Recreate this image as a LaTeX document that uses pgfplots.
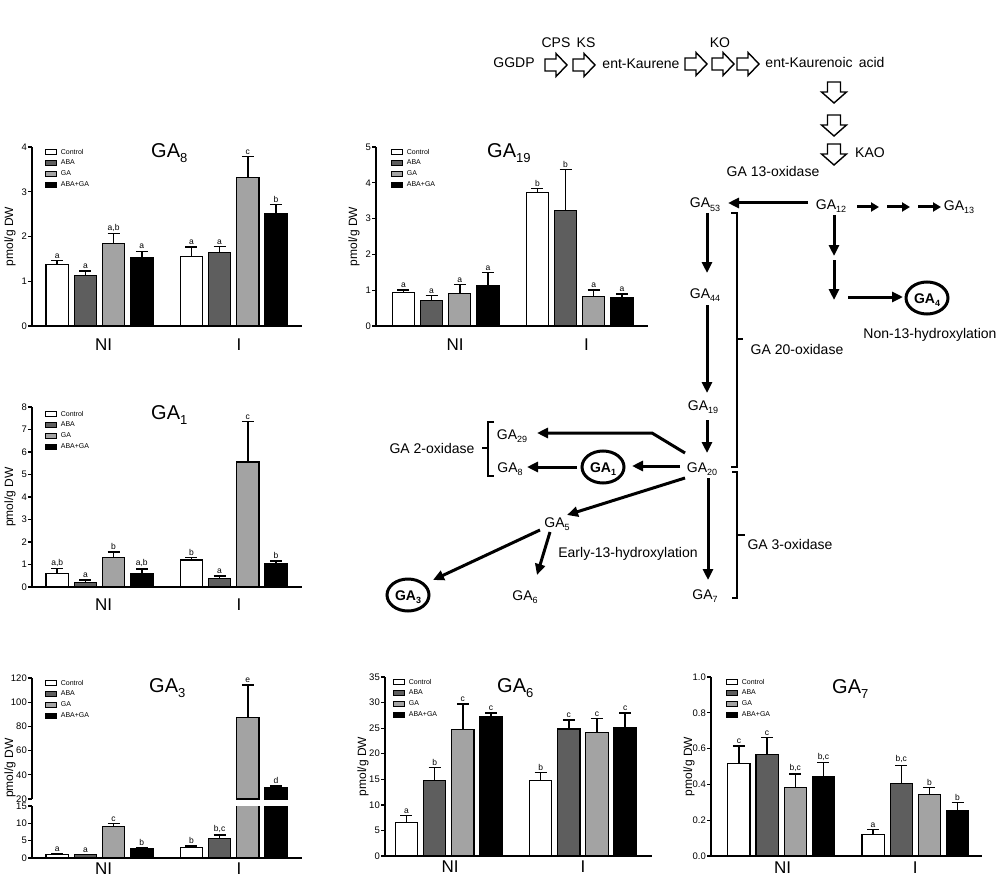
\documentclass[border=0pt]{standalone}
\usepackage{fontspec}
\setmainfont{Liberation Sans}
\usepackage{pgfplots}
\pgfplotsset{compat=1.18}
\usepackage{pgfplotstable}
\usetikzlibrary{arrows.meta}

\definecolor{cABA}{HTML}{5E5E5E}
\definecolor{cGA}{HTML}{A3A3A3}

% columns: group, Control (value, error, letter), ABA, GA, ABA+GA
\pgfplotstableread{
grp c ce cl a ae al g ge gl b be bl
0 1.37 0.09 a 1.13 0.10 a 1.84 0.23 a,b 1.53 0.14 a
1 1.56 0.20 a 1.64 0.14 a 3.32 0.47 c 2.51 0.20 b
}\tGAeight
\pgfplotstableread{
grp c ce cl a ae al g ge gl b be bl
0 0.93 0.07 a 0.71 0.14 a 0.91 0.25 a 1.14 0.36 a
1 3.73 0.11 b 3.23 1.14 b 0.82 0.18 a 0.79 0.10 a
}\tGAnineteen
\pgfplotstableread{
grp c ce cl a ae al g ge gl b be bl
0 0.59 0.24 a,b 0.21 0.10 a 1.30 0.26 b 0.61 0.20 a,b
1 1.20 0.12 b 0.37 0.13 a 5.56 1.80 c 1.04 0.12 b
}\tGAone
\pgfplotstableread{
grp c ce cl a ae al g ge gl b be bl
0 0.97 0.19 a 0.90 0.16 a 9.2 0.8 c 2.6 0.3 b
1 3.1 0.3 b 5.7 1.0 b,c 87.6 26.6 e 29.4 1.4 d
}\tGAthree
\pgfplotstableread{
grp c ce cl a ae al g ge gl b be bl
0 6.57 1.37 a 14.7 2.6 b 24.8 4.9 c 27.3 0.7 c
1 14.8 1.5 b 24.85 1.75 c 24.1 2.8 c 25.2 2.8 c
}\tGAsix
\pgfplotstableread{
grp c ce cl a ae al g ge gl b be bl
0 0.517 0.098 c 0.569 0.093 c 0.383 0.074 b,c 0.442 0.080 b,c
1 0.121 0.028 a 0.407 0.100 b,c 0.342 0.041 b 0.253 0.046 b
}\tGAseven

\pgfplotsset{
  /pgf/number format/assume math mode=true,
  bstyle/.style={ybar, bar width=0.166, bar shift=0pt, draw=black, line width=1.2pt, fill=#1,
    error bars/y dir=plus, error bars/y explicit,
    error bars/error bar style={line width=1.5pt, black, solid},
    error bars/error mark options={rotate=90, mark size=6pt, line width=1.5pt, black}},
  lbl/.style={draw=none, mark=none, forget plot, nodes near coords, point meta=explicit symbolic,
    every node near coord/.append style={font=\fontsize{8.5}{9}\selectfont, anchor=south, inner sep=0.5pt, yshift=1.5pt}},
  gabase/.style={
    scale only axis,
    axis lines*=left,
    axis line style={-, line width=1.8pt},
    ymin=0, clip=true,
    xtick={0.03,1.04}, xticklabels={NI,I},
    x tick style={draw=none},
    y tick style={line width=1.3pt, black},
    tick align=outside, major tick length=4pt,
    tick label style={font=\fontsize{9.5}{10}\selectfont},
    xticklabel style={font=\fontsize{17}{17}\selectfont, inner sep=0pt},
    yticklabel style={inner sep=1pt},
    ylabel={pmol/g DW},
    every axis y label/.style={at={([xshift=-22pt]rel axis cs:0,0.5)}, rotate=90, anchor=center, font=\fontsize{12}{12}\selectfont},
    legend cell align=left,
    legend style={draw=none, fill=none, at={(rel axis cs:0,1)}, anchor=north west, xshift=6pt, yshift=-1pt,
      inner sep=0pt, outer sep=0pt, row sep=2.5pt, font=\fontsize{7}{7}\selectfont,
      nodes={inner sep=1pt, text height=5pt, text depth=1.3pt},
      /tikz/every odd column/.append style={column sep=3pt}},
    legend image code/.code={\draw[##1, line width=0.9pt] (0pt,-2.6pt) rectangle (11pt,2.6pt);},
  },
}

\newcommand{\gabars}[2]{%
  \addplot[bstyle=white,#2] table[x expr=\thisrow{grp}-0.315, y=c, y error=ce]{#1};
  \addplot[bstyle=cABA,#2] table[x expr=\thisrow{grp}-0.105, y=a, y error=ae]{#1};
  \addplot[bstyle=cGA,#2] table[x expr=\thisrow{grp}+0.105, y=g, y error=ge]{#1};
  \addplot[bstyle=black,#2] table[x expr=\thisrow{grp}+0.315, y=b, y error=be]{#1};
}
\newcommand{\galabels}[2]{%
  \addplot[lbl,#2] table[x expr=\thisrow{grp}-0.315, y expr=\thisrow{c}+\thisrow{ce}, meta=cl]{#1};
  \addplot[lbl,#2] table[x expr=\thisrow{grp}-0.105, y expr=\thisrow{a}+\thisrow{ae}, meta=al]{#1};
  \addplot[lbl,#2] table[x expr=\thisrow{grp}+0.105, y expr=\thisrow{g}+\thisrow{ge}, meta=gl]{#1};
  \addplot[lbl,#2] table[x expr=\thisrow{grp}+0.315, y expr=\thisrow{b}+\thisrow{be}, meta=bl]{#1};
}
\newcommand{\GT}[1]{{\fontsize{20}{20}\selectfont GA\raisebox{-5pt}{\fontsize{13}{13}\selectfont #1}}}
\newcommand{\GA}[1]{GA\raisebox{-3pt}{\fontsize{9}{9}\selectfont #1}}
\newcommand{\GAb}[1]{\textbf{GA\raisebox{-3pt}{\fontsize{9}{9}\selectfont #1}}}

\begin{document}
\begin{tikzpicture}
\path[use as bounding box] (0pt,0pt) rectangle (1000pt,-877pt);

% GA8
\begin{axis}[gabase, at={(32pt,-326pt)}, anchor=south west, width=270pt, height=179pt,
  xmin=-0.503, xmax=1.509, ymax=4, ytick={0,1,2,3,4}, xticklabel style={yshift=-9pt},
  legend style={xshift=7pt}]
  \gabars{\tGAeight}{}
  \galabels{\tGAeight}{}
  \legend{Control,ABA,GA,ABA+GA}
\end{axis}

% GA19
\begin{axis}[gabase, at={(376pt,-326pt)}, anchor=south west, width=272pt, height=179pt,
  xmin=-0.52, xmax=1.51, ymax=5, ytick={0,1,2,3,4,5}, xtick={0.07,1.05}, xticklabel style={yshift=-9pt},
  legend style={xshift=9pt}]
  \gabars{\tGAnineteen}{}
  \galabels{\tGAnineteen}{}
  \legend{Control,ABA,GA,ABA+GA}
\end{axis}

% GA1
\begin{axis}[gabase, at={(32pt,-587pt)}, anchor=south west, width=270pt, height=180pt,
  xmin=-0.503, xmax=1.509, ymax=8, ytick={0,1,...,8}, xticklabel style={yshift=-8pt},
  legend style={xshift=7pt, yshift=-2pt}]
  \gabars{\tGAone}{}
  \galabels{\tGAone}{}
  \legend{Control,ABA,GA,ABA+GA}
\end{axis}

% GA3 lower part
\begin{axis}[gabase, at={(32pt,-858pt)}, anchor=south west, width=270pt, height=52pt,
  xmin=-0.503, xmax=1.509, ymax=15, ytick={0,5,10,15}, ylabel={}, xticklabel style={yshift=-1pt}]
  \gabars{\tGAthree}{}
  \galabels{\tGAthree}{restrict y to domain=0:15}
\end{axis}
% GA3 upper part
\begin{axis}[gabase, at={(32pt,-799pt)}, anchor=south west, width=270pt, height=121pt,
  xmin=-0.503, xmax=1.509, ymin=20, ymax=120, ytick={20,40,...,120}, ylabel={},
  axis x line=none, xtick=\empty, legend style={xshift=7pt}]
  \addlegendimage{draw=black, fill=white}
  \addlegendimage{draw=black, fill=cABA}
  \addlegendimage{draw=black, fill=cGA}
  \addlegendimage{draw=black, fill=black}
  \gabars{\tGAthree}{restrict y to domain=20:200, forget plot}
  \galabels{\tGAthree}{restrict y to domain=20:200}
  \legend{Control,ABA,GA,ABA+GA}
\end{axis}
\node[rotate=90, font=\fontsize{12}{12}\selectfont] at (10pt,-768pt) {pmol/g DW};

% GA6
\begin{axis}[gabase, at={(385pt,-856pt)}, anchor=south west, width=267pt, height=179pt,
  xmin=-0.475, xmax=1.515, ymax=35, ytick={0,5,...,35}, xtick={0.01,1.0},
  xticklabel style={yshift=-1pt}, legend style={xshift=2pt}]
  \gabars{\tGAsix}{}
  \galabels{\tGAsix}{}
  \legend{Control,ABA,GA,ABA+GA}
\end{axis}

% GA7
\begin{axis}[gabase, at={(711pt,-856pt)}, anchor=south west, width=271pt, height=179pt,
  xmin=-0.523, xmax=1.497, ymax=1, ytick={0,0.2,...,1.0}, xtick={0.01,1.0},
  xticklabel style={yshift=-2pt},
  yticklabel style={/pgf/number format/.cd, fixed, fixed zerofill, precision=1}, legend style={xshift=9pt}]
  \gabars{\tGAseven}{}
  \galabels{\tGAseven}{}
  \legend{Control,ABA,GA,ABA+GA}
\end{axis}

% panel titles
\node[anchor=base west, inner sep=0pt] at (151pt,-158pt) {\GT{8}};
\node[anchor=base west, inner sep=0pt] at (487pt,-158pt) {\GT{19}};
\node[anchor=base west, inner sep=0pt] at (151pt,-419pt) {\GT{1}};
\node[anchor=base west, inner sep=0pt] at (149pt,-692pt) {\GT{3}};
\node[anchor=base west, inner sep=0pt] at (497pt,-692pt) {\GT{6}};
\node[anchor=base west, inner sep=0pt] at (832pt,-693pt) {\GT{7}};

% pathway diagram
\begin{scope}[x=1pt, y=-1pt, font=\fontsize{14}{14}\selectfont,
  every node/.style={anchor=base, inner sep=0pt},
  arr/.style={line width=3pt, -{Triangle[length=11pt,width=10pt]}},
  sarr/.style={line width=3pt, -{Triangle[length=8pt,width=9pt]}},
  brk/.style={line width=2pt},
  blk/.style={line width=1.4pt, line join=miter}]
  \node at (514,68) {GGDP};
  \node at (556,48) {CPS};
  \node at (586,48) {KS};
  \node at (641,69) {ent-Kaurene};
  \node at (720,48) {KO};
  \node at (825,68) {ent-Kaurenoic\ \,acid};
  \node at (870,158) {KAO};
  \node at (773,177) {GA 13-oxidase};
  % open block arrows (right)
  \foreach \xx/\yy in {545/65, 573/65, 685/64, 712/64, 737/64}
    \draw[blk] (\xx,\yy-6) -- ++(11,0) -- ++(0,-5.5) -- ++(11,11.5) -- ++(-11,11.5) -- ++(0,-5.5) -- ++(-11,0) -- cycle;
  % open block arrows (down)
  \foreach \yy in {82, 115, 144}
    \draw[blk] (827.5,\yy) -- ++(13,0) -- ++(0,10) -- ++(6,0) -- ++(-12.5,11) -- ++(-12.5,-11) -- ++(6,0) -- cycle;

  \node at (705,208) {\GA{53}};
  \node at (831,210) {\GA{12}};
  \node at (959,211) {\GA{13}};
  \node at (705,298) {\GA{44}};
  \node at (703,410) {\GA{19}};
  \node at (702,472) {\GA{20}};
  \node at (512,439) {\GA{29}};
  \node at (510,472) {\GA{8}};
  \node at (557,527) {\GA{5}};
  \node at (525,600) {\GA{6}};
  \node at (705,599) {\GA{7}};
  \node at (432,453) {GA 2-oxidase};
  \node at (797,354) {GA 20-oxidase};
  \node at (790,549) {GA 3-oxidase};
  \node at (628,557) {Early-13-hydroxylation};
  \node at (930,338) {Non-13-hydroxylation};

  \draw[line width=3pt] (927,298) ellipse [x radius=21, y radius=16];
  \node at (927,303) {\GAb{4}};
  \draw[line width=3pt] (603,467) ellipse [x radius=21, y radius=16];
  \node at (603,472) {\GAb{1}};
  \draw[line width=3pt] (408,595) ellipse [x radius=21, y radius=16];
  \node at (408,600) {\GAb{3}};

  \draw[arr] (808,203) -- (728,203);
  \draw[sarr] (857,207) -- (879,207);
  \draw[sarr] (887,207) -- (910,207);
  \draw[sarr] (918,207) -- (941,207);
  \draw[arr] (834,215) -- (834,256);
  \draw[arr] (834,260) -- (834,300);
  \draw[arr] (848,297) -- (903,297);
  \draw[arr] (707,213) -- (707,273);
  \draw[arr] (707,305) -- (707,393);
  \draw[arr] (707,420) -- (707,453);
  \draw[arr] (685,453) -- (652,433) -- (537,433);
  \draw[arr] (680,466) -- (632,466);
  \draw[arr] (577,467) -- (527,467);
  \draw[arr] (685,478) -- (567,515);
  \draw[arr] (540,530) -- (433,580);
  \draw[arr] (550,532) -- (537,575);
  \draw[arr] (708,478) -- (708,580);

  % brackets
  \draw[brk] (731,213) -- (737,213) -- (737,467) -- (731,467);
  \draw[brk] (737,339) -- (743,339);
  \draw[brk] (732,472) -- (737,472) -- (737,598) -- (732,598);
  \draw[brk] (737,535) -- (745,535);
  \draw[brk] (494,422) -- (488,422) -- (488,476) -- (494,476);
  \draw[brk] (488,448) -- (482,448);
\end{scope}
\end{tikzpicture}
\end{document}
